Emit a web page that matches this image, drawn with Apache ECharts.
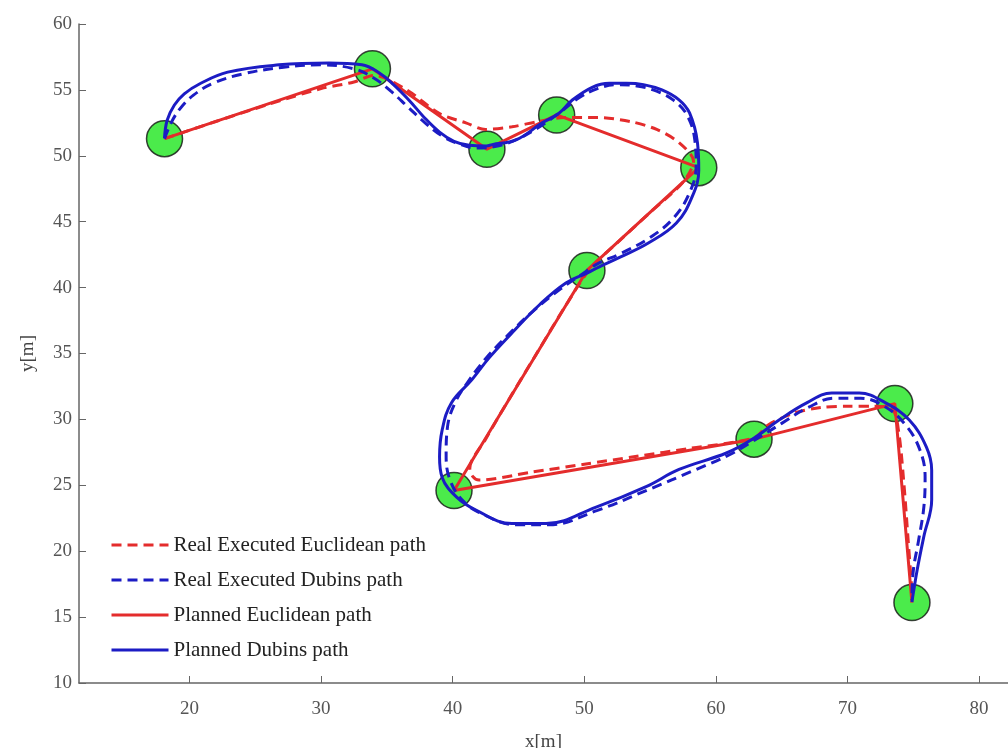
<!DOCTYPE html>
<html>
<head>
<meta charset="utf-8">
<title>Paths</title>
<script src="https://cdn.jsdelivr.net/npm/echarts@6/dist/echarts.min.js"></script>
<style>
  html, body { margin: 0; padding: 0; background: #fff; }
  #chart { width: 1008px; height: 748px; }
</style>
</head>
<body>
<div id="chart"></div>
<script>
// waypoints
var wayX = [18.1, 33.9, 42.6, 47.9, 58.7, 50.2, 40.1, 62.9, 73.6, 74.9];
var wayY = [51.3, 56.6, 50.5, 53.1, 49.1, 41.3, 24.6, 28.5, 31.2, 16.1];

// real executed euclidean path (dashed red)
var realEucX = [18.1, 22, 26, 30, 32.5, 34.0, 36.5, 39, 41, 42.5, 44.5, 46.5, 48.5, 51, 53.5, 55.5, 57.2, 58.3,
                57.5, 55, 52.5, 50.5, 48.5, 46.5, 44.5, 42.5, 41.3, 41.5, 42, 46, 50, 54, 58, 62.9,
                64, 66, 68, 70, 72, 73.4, 73.9, 74.3, 74.6, 74.9];
var realEucY = [51.3, 52.6, 53.9, 55.1, 55.6, 56.1, 55.0, 53.2, 52.5, 52.0, 52.2, 52.6, 52.9, 52.9, 52.6, 52.0, 51.0, 49.6,
                48.0, 45.7, 43.4, 41.5, 38.5, 35.2, 31.9, 28.5, 26.3, 25.7, 25.4, 26.0, 26.6, 27.2, 27.8, 28.6,
                29.6, 30.5, 30.9, 31.0, 31.0, 30.8, 29.0, 25.0, 21.0, 17.0];

// real executed dubins path (dashed blue)
var realDubX = [18.1, 18.6, 19.3, 20.3, 21.8, 24, 27, 30, 32.5, 34.0, 35.3, 36.6, 37.9, 39.2, 40.5, 41.8, 43.2, 45,
                46.9, 48.3, 49.6, 51, 52.5, 54, 55.5, 56.8, 57.8, 58.4, 58.5, 58.0, 56.8, 55, 52.8, 51, 49.8,
                48.2, 46.2, 44.2, 42.5, 41.2, 40.2, 39.6, 39.5, 39.8, 40.8, 42.3, 44.8, 47.3, 51, 54.7, 58.5,
                61, 62.9, 65, 67, 69, 71, 72.8, 74.4, 75.5, 75.9, 75.8, 75.4, 75.0, 74.9];
var realDubY = [51.3, 52.5, 53.6, 54.6, 55.5, 56.2, 56.7, 56.9, 56.6, 55.9, 54.9, 53.7, 52.5, 51.5, 50.9, 50.6, 50.7, 51.3,
                52.4, 53.4, 54.4, 55.1, 55.4, 55.3, 54.9, 54.2, 53.1, 51.2, 49.2, 47.2, 45.3, 43.8, 42.6, 41.8, 41.0,
                39.9, 38.3, 36.4, 34.6, 32.9, 31.3, 29.4, 27.3, 25.4, 23.8, 22.8, 22.0, 22.0, 23.1, 24.6, 26.2,
                27.3, 28.4, 29.7, 30.9, 31.6, 31.6, 31.0, 29.6, 27.7, 25.6, 23.3, 20.8, 18.5, 16.3];

// planned dubins path (solid blue)
var planDubX = [18.1, 18.3, 18.85, 19.6, 20.75, 22.9, 26.8, 30.6, 33.1, 34.4, 35.5, 36.7, 37.8, 39.0, 40.1, 41.25, 42.55,
                43.0, 44.8, 46.8, 48.1, 49.05, 50.6, 51.9, 53.2, 54.5, 55.9, 57.2, 58.0, 58.6, 58.7, 58.2, 57.0,
                54.9, 52.6, 51.1, 50.2, 48.6, 46.6, 44.5, 42.75, 41.45, 39.9, 39.2, 39.0, 39.2, 40.3, 41.8, 44.5,
                47.1, 50.9, 54.7, 57.2, 60.8, 62.7, 64.8, 66.9, 68.8, 70.9, 72.9, 74.7, 76.0, 76.4, 76.4, 75.8,
                75.3, 75.0, 74.9];
var planDubY = [51.35, 52.7, 53.85, 54.7, 55.45, 56.35, 56.9, 57.04, 56.9, 56.3, 55.4, 54.2, 52.95, 51.8, 51.1, 50.8, 50.75,
                50.85, 51.2, 52.5, 53.25, 54.2, 55.2, 55.5, 55.5, 55.4, 55.0, 54.25, 53.25, 51.0, 48.9, 46.9, 44.9,
                43.4, 42.25, 41.56, 41.1, 40.35, 38.7, 36.55, 34.65, 33.0, 31.25, 29.2, 27.15, 25.6, 24.1, 23.1, 22.1,
                22.1, 23.35, 24.9, 26.2, 27.45, 28.45, 29.95, 31.25, 32.0, 32.0, 31.25, 29.95, 27.9, 26.15, 23.9, 21.1,
                18.6, 16.8, 16.15];

var xTicks = [20, 30, 40, 50, 60, 70, 80];

function pairs(xs, ys) {
    var out = [];
    for (var i = 0; i < xs.length; i++) {
        out.push([xs[i], ys[i]]);
    }
    return out;
}

var red = '#e42c2c';
var blue = '#1c1cc4';
var serif = '"Liberation Serif", "DejaVu Serif", serif';

var myChart = echarts.init(document.getElementById('chart'));
var option = {
    animation: false,
    backgroundColor: '#fff',
    grid: {
        left: 79,
        top: 24,
        right: 0,
        bottom: 65,
        containLabel: false,
        outerBoundsMode: 'none'
    },
    legend: {
        data: ['Real Executed Euclidean path', 'Real Executed Dubins path', 'Planned Euclidean path', 'Planned Dubins path'],
        orient: 'vertical',
        left: 110,
        top: 534,
        padding: 0,
        itemWidth: 57,
        itemHeight: 22,
        itemGap: 13,
        itemStyle: { opacity: 0 },
        lineStyle: { width: 3 },
        textStyle: {
            fontFamily: serif,
            fontSize: 21,
            color: '#222',
            lineHeight: 22
        }
    },
    xAxis: {
        type: 'value',
        min: 11.6,
        max: 82.2,
        name: 'x[m]',
        nameLocation: 'middle',
        nameGap: 50,
        nameTextStyle: { fontFamily: serif, fontSize: 19, color: '#444' },
        splitLine: { show: false },
        axisLine: { lineStyle: { color: '#666', width: 1.5 } },
        axisTick: { inside: true, length: 7, customValues: xTicks, lineStyle: { color: '#666' } },
        axisLabel: { customValues: xTicks, margin: 17, fontFamily: serif, fontSize: 19, color: '#555' }
    },
    yAxis: {
        type: 'value',
        min: 10,
        max: 60,
        interval: 5,
        name: 'y[m]',
        nameLocation: 'middle',
        nameGap: 41,
        nameTextStyle: { fontFamily: serif, fontSize: 19, color: '#444' },
        splitLine: { show: false },
        axisLine: { show: true, lineStyle: { color: '#666', width: 1.5 } },
        axisTick: { show: true, inside: true, length: 7, lineStyle: { color: '#666' } },
        axisLabel: { margin: 7, fontFamily: serif, fontSize: 19, color: '#555' }
    },
    series: [{
        name: 'Waypoints',
        type: 'scatter',
        symbol: 'circle',
        symbolSize: 36,
        z: 1,
        itemStyle: { color: '#1ee61e', borderColor: '#111', borderWidth: 1.5 },
        data: pairs(wayX, wayY)
    }, {
        name: 'Planned Euclidean path',
        type: 'line',
        z: 2,
        symbol: 'none',
        color: red,
        lineStyle: { color: red, width: 3 },
        data: pairs(wayX, wayY)
    }, {
        name: 'Real Executed Euclidean path',
        type: 'line',
        z: 3,
        symbol: 'none',
        smooth: 0.3,
        color: red,
        lineStyle: { color: red, width: 3, type: [10, 6] },
        data: pairs(realEucX, realEucY)
    }, {
        name: 'Planned Dubins path',
        type: 'line',
        z: 4,
        symbol: 'none',
        smooth: 0.4,
        color: blue,
        lineStyle: { color: blue, width: 3 },
        data: pairs(planDubX, planDubY)
    }, {
        name: 'Real Executed Dubins path',
        type: 'line',
        z: 5,
        symbol: 'none',
        smooth: 0.4,
        color: blue,
        lineStyle: { color: blue, width: 3, type: [10, 6] },
        data: pairs(realDubX, realDubY)
    }]
};
myChart.setOption(option);
</script>
</body>
</html>
